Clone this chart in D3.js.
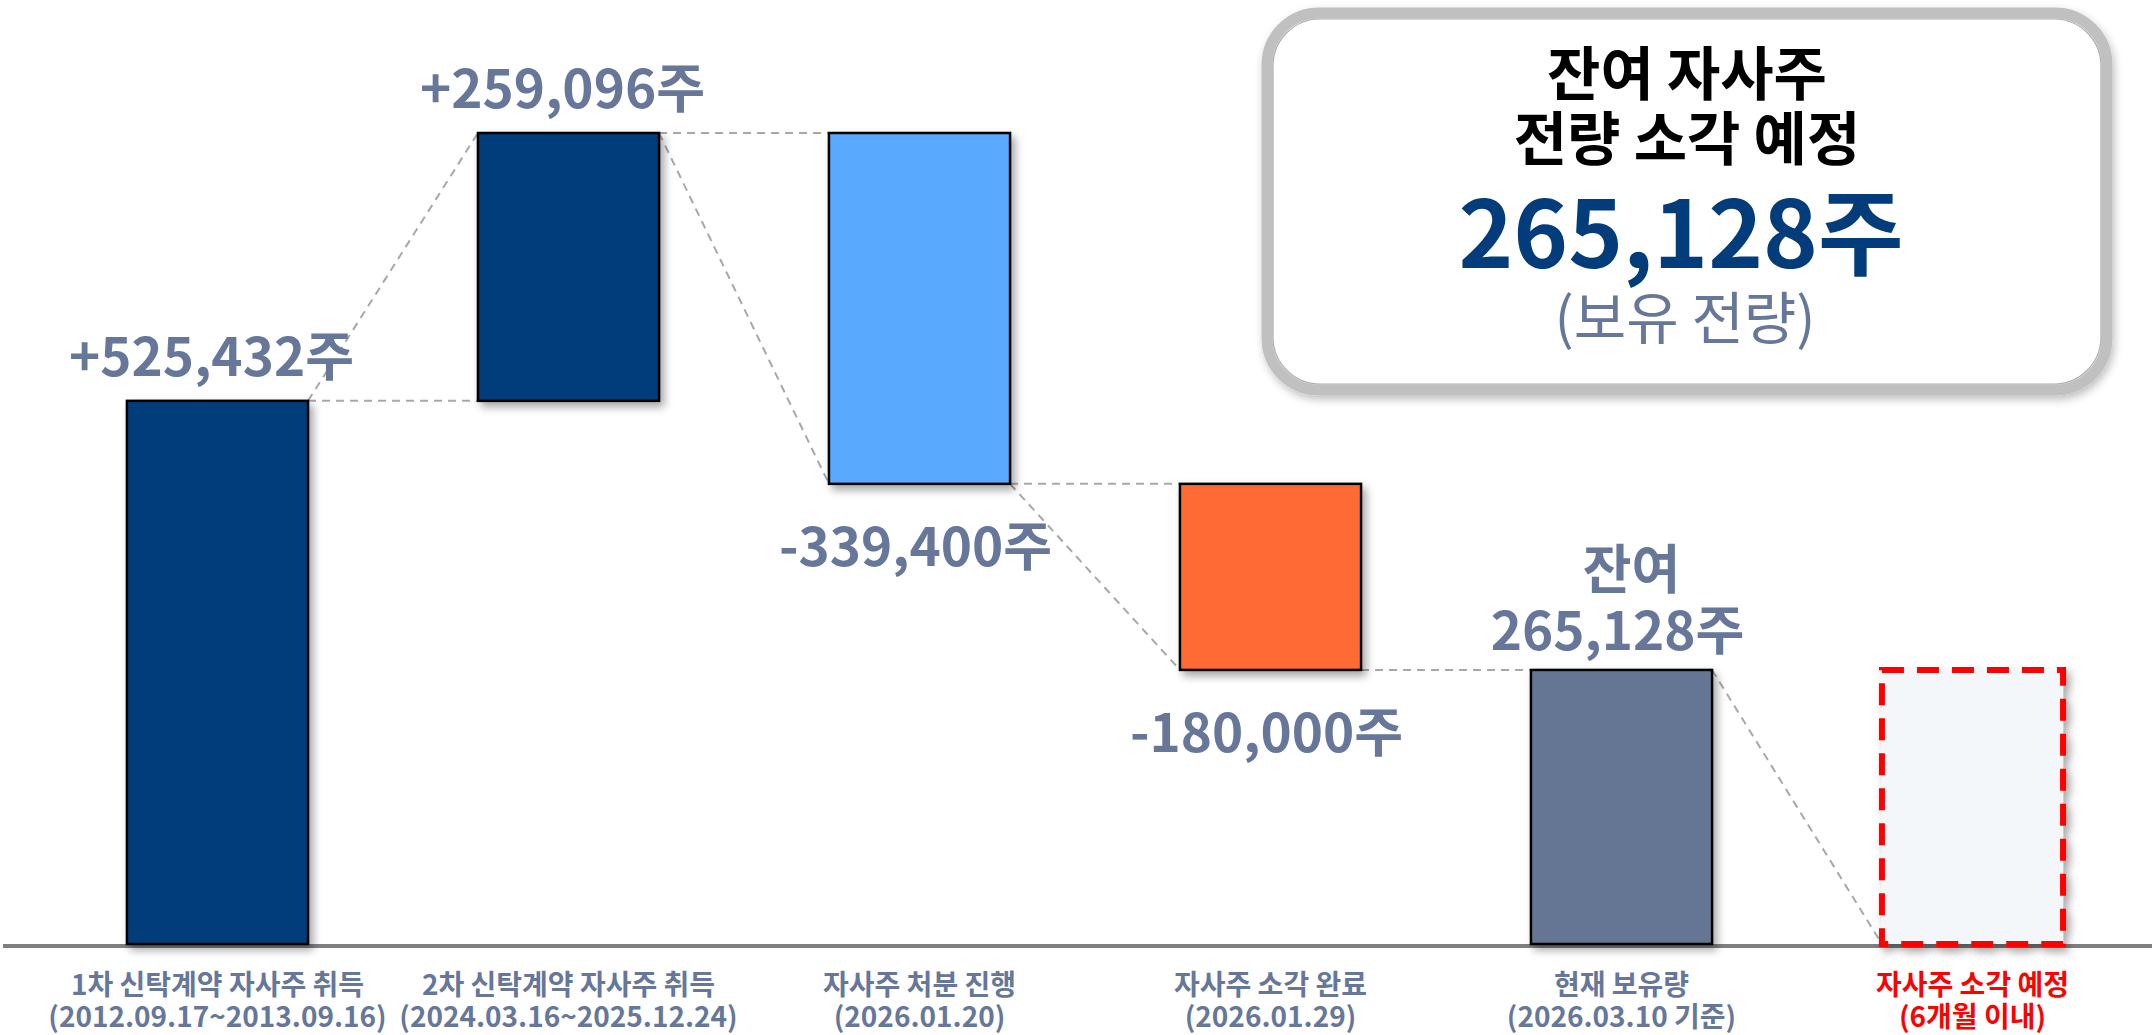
<!DOCTYPE html>
<html>
<head>
<meta charset="utf-8">
<script src="https://cdn.jsdelivr.net/npm/d3@7"></script>
<style>
  html, body { margin: 0; padding: 0; background: #ffffff; }
  svg { display: block; }
  text { font-family: "Noto Sans CJK KR", "Noto Sans", sans-serif; }
</style>
</head>
<body>
<svg id="chart" width="2152" height="1035"></svg>
<script>
// ---- data ----
const categories = ["1차 신탁계약 자사주 취득", "2차 신탁계약 자사주 취득", "자사주 처분 진행", "자사주 소각 완료", "현재 보유량", "자사주 소각 예정"];
const periods = ["(2012.09.17~2013.09.16)", "(2024.03.16~2025.12.24)", "(2026.01.20)", "(2026.01.29)", "(2026.03.10 기준)", "(6개월 이내)"];
const changes = [525432, 259096, -339400, -180000, 0, -265128];
const kinds = ["increase", "increase", "decrease", "decrease", "total", "planned"];
const boxTitle = ["잔여 자사주", "전량 소각 예정"];
const boxValue = 265128;
const boxNote = "(보유 전량)";

// ---- derived waterfall ----
let run = 0;
const bars = categories.map((c, i) => {
  let start, end;
  if (kinds[i] === "total") { start = 0; end = run; }
  else { start = run; end = run + changes[i]; run = end; }
  return { cat: c, period: periods[i], kind: kinds[i], change: changes[i], start, end,
           lo: Math.min(start, end), hi: Math.max(start, end) };
});

const svg = d3.select("#chart");
const W = 2152, H = 1035;
const baseY = 944;

const x = d3.scaleBand().domain(categories).range([42, 2148]).paddingInner(0.484).paddingOuter(0.242);
const y = d3.scaleLinear().domain([0, 800000]).range([baseY, 117]);

const colors = { increase: "#023C7A", decrease0: "#58A9FF", decrease1: "#FF6B35", total: "#657594", planned: "#F4F7FA" };
const slate = "#66779A";
const fmt = d3.format(",");

const defs = svg.append("defs");
const f = defs.append("filter").attr("id", "shadow").attr("x", "-20%").attr("y", "-20%").attr("width", "150%").attr("height", "150%");
f.append("feDropShadow").attr("dx", 4).attr("dy", 5).attr("stdDeviation", 4).attr("flood-color", "#000").attr("flood-opacity", 0.35);
const f2 = defs.append("filter").attr("id", "boxshadow").attr("x", "-10%").attr("y", "-10%").attr("width", "120%").attr("height", "125%");
f2.append("feDropShadow").attr("dx", 2).attr("dy", 4).attr("stdDeviation", 4).attr("flood-color", "#000").attr("flood-opacity", 0.25);

// baseline
svg.append("line").attr("x1", 3).attr("x2", W).attr("y1", baseY + 2).attr("y2", baseY + 2)
  .attr("stroke", "#7F7F7F").attr("stroke-width", 4);

// connectors
const conn = svg.append("g").attr("stroke", "#A8A8A8").attr("stroke-width", 2).attr("stroke-dasharray", "8,6").attr("fill", "none");
for (let i = 0; i < bars.length - 1; i++) {
  const a = bars[i], b = bars[i + 1];
  const xr = x(a.cat) + x.bandwidth(), xl = x(b.cat);
  if (b.kind !== "planned") {
    conn.append("line").attr("x1", xr).attr("x2", xl).attr("y1", y(a.end)).attr("y2", y(a.end));
  }
  if (b.kind !== "total") {
    conn.append("line").attr("x1", xr).attr("x2", xl).attr("y1", y(a.end)).attr("y2", y(b.end));
  }
}

// bars
let decIdx = 0;
bars.forEach(d => {
  let fill;
  if (d.kind === "decrease") { fill = colors["decrease" + decIdx]; decIdx++; }
  else fill = colors[d.kind];
  const r = svg.append("rect")
    .attr("x", x(d.cat)).attr("width", x.bandwidth())
    .attr("y", y(d.hi)).attr("height", y(d.lo) - y(d.hi))
    .attr("fill", fill).attr("filter", "url(#shadow)");
  if (d.kind === "planned") {
    r.attr("stroke", "#FF0000").attr("stroke-width", 6).attr("stroke-dasharray", "22,13");
  } else {
    r.attr("stroke", "#000").attr("stroke-width", 2.5);
  }
});

// value labels
const lab = svg.append("g").attr("fill", slate).attr("font-weight", 700).attr("font-size", 53).attr("text-anchor", "middle");
bars.forEach(d => {
  const cx = x(d.cat) + x.bandwidth() / 2;
  if (d.kind === "increase") {
    lab.append("text").attr("x", cx - 6).attr("y", y(d.hi) - 25).text("+" + fmt(d.change) + "주");
  } else if (d.kind === "decrease") {
    lab.append("text").attr("x", cx - 4).attr("y", y(d.lo) + 82).text("-" + fmt(-d.change) + "주");
  } else if (d.kind === "total") {
    const t = lab.append("text");
    t.append("tspan").attr("x", cx + 10).attr("y", y(d.hi) - 81).text("잔여");
    t.append("tspan").attr("x", cx - 4).attr("y", y(d.hi) - 20).text(fmt(d.end) + "주");
  }
});

// category labels (axis)
const ax = svg.append("g").attr("transform", `translate(0,${baseY})`)
  .call(d3.axisBottom(x).tickSize(0).tickFormat(() => ""));
ax.select(".domain").remove();
ax.selectAll(".tick").each(function(c, i) {
  const t = d3.select(this).append("text")
    .attr("text-anchor", "middle").attr("font-weight", 700).attr("font-size", 28)
    .attr("fill", bars[i].kind === "planned" ? "#FF0000" : slate);
  t.append("tspan").attr("x", 0).attr("y", 51).text(c);
  t.append("tspan").attr("x", 0).attr("y", 83).text(bars[i].period);
});

// callout box
const bx = 1267, by = 13, bw = 840, bh = 377;
const box = svg.append("g");
box.append("rect").attr("x", bx).attr("y", by).attr("width", bw).attr("height", bh).attr("rx", 52)
  .attr("fill", "#fff").attr("stroke", "#C0C0C0").attr("stroke-width", 11).attr("filter", "url(#boxshadow)");
box.append("rect").attr("x", bx + 6).attr("y", by + 6).attr("width", bw - 12).attr("height", bh - 12).attr("rx", 47)
  .attr("fill", "none").attr("stroke", "#9a9a9a").attr("stroke-width", 1.2).attr("opacity", 0.8);
const bcx = bx + bw / 2;
const bt = box.append("text").attr("text-anchor", "middle");
bt.append("tspan").attr("x", bcx).attr("y", 95).attr("font-weight", 700)
  .attr("font-size", 58).attr("fill", "#000").text(boxTitle[0]);
bt.append("tspan").attr("x", bcx).attr("y", 160).attr("font-weight", 700)
  .attr("font-size", 58).attr("fill", "#000").text(boxTitle[1]);
bt.append("tspan").attr("x", bcx - 6).attr("y", 268).attr("font-weight", 700)
  .attr("font-size", 93).attr("fill", "#023C7A").text(fmt(boxValue) + "주");
bt.append("tspan").attr("x", bcx - 2).attr("y", 339).attr("font-weight", 400)
  .attr("font-size", 57).attr("fill", slate).text(boxNote);
</script>
</body>
</html>
